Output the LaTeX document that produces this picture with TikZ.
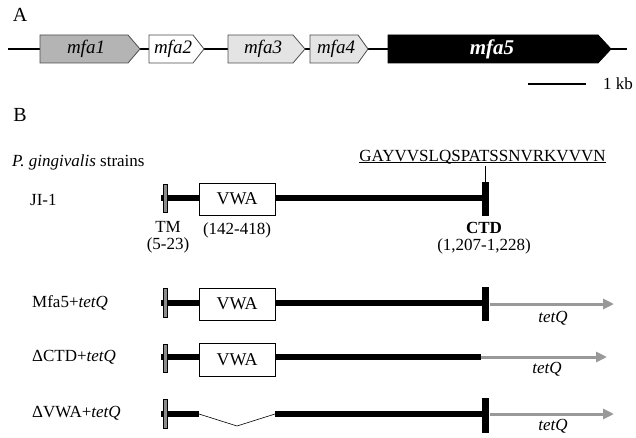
\documentclass[tikz,border=0pt]{standalone}
\usepackage{fontspec}
\setmainfont{Liberation Serif}
\usetikzlibrary{arrows.meta}
\newcommand\fsz{\fontsize{17}{20}\selectfont}
\definecolor{genegray}{HTML}{B4B4B4}
\definecolor{genelight}{HTML}{E4E4E4}
\definecolor{tmgray}{HTML}{8C8C8C}
\definecolor{tetgray}{HTML}{999999}
\begin{document}
\begin{tikzpicture}[x=1pt,y=-1pt,
  every node/.style={inner sep=0pt, font=\fsz},
  gene/.style={draw=black!70, line width=0.8pt},
  backbone/.style={line width=1.5pt, black},
  prot/.style={line width=5.5pt, black},
  tmbar/.style={fill=tmgray, draw=black, line width=0.5pt},
  ctdbar/.style={fill=black, draw=black, line width=0.3pt},
  vwabox/.style={draw=black, fill=white, line width=0.8pt, minimum width=76pt, font=\fontsize{18}{20}\selectfont},
  tetarrow/.style={tetgray, line width=3pt, -{Triangle[length=11pt,width=10pt]}},
  panel/.style={font=\fontsize{20}{22}\selectfont},
  rowlabel/.style={anchor=west},
  genelabel/.style={font=\fontsize{19}{20}\selectfont\itshape}]
\useasboundingbox (0,0) rectangle (636,438);

% ---------- Panel A ----------
\node[panel] (A) at (20,15) {A};
\coordinate (bbL) at (8,49);
\coordinate (bbR) at (627,49);
\draw[backbone] (bbL) -- (bbR);
\filldraw[gene, fill=genegray] (40,35) -- (128,35) -- (140,49) -- (128,63) -- (40,63) -- cycle;
\filldraw[gene, fill=white] (149,35) -- (193,35) -- (204,49) -- (193,63) -- (149,63) -- cycle;
\filldraw[gene, fill=genelight] (228,35) -- (293,35) -- (305,49) -- (293,63) -- (228,63) -- cycle;
\filldraw[gene, fill=genelight] (310,35) -- (358,35) -- (368,49) -- (358,63) -- (310,63) -- cycle;
\filldraw[gene, draw=black, fill=black] (388,35) -- (598,35) -- (611,49) -- (598,63) -- (388,63) -- cycle;
\node[genelabel] (m1) at (86,49) {mfa1};
\node[genelabel] (m2) at (173,49) {mfa2};
\node[genelabel] (m3) at (263,49) {mfa3};
\node[genelabel] (m4) at (336,49) {mfa4};
\node[genelabel, font=\fontsize{21}{22}\selectfont\bfseries\itshape, text=white] (m5) at (492,49) {mfa5};
\coordinate (sbL) at (528,84);
\coordinate (sbR) at (586,84);
\draw[line width=2.2pt] (sbL) -- (sbR);
\node[anchor=west] (kb) at (603,84) {1 kb};

% ---------- Panel B ----------
\node[panel] (B) at (20,115) {B};
\node[anchor=west] (strains) at (12,162) {\textit{P. gingivalis} strains};

% JI-1
\node[rowlabel] (ji) at (30,200) {JI-1};
\coordinate (r0s) at (161,198);
\coordinate (r0e) at (483,198);
\draw[prot] (r0s) -- (r0e);
\filldraw[tmbar] (163,184) rectangle (167,212);
\node[vwabox, minimum height=32pt] (v0) at (237,199) {VWA};
\filldraw[ctdbar] (482,182) rectangle (488,215);
\coordinate (ctdtop) at (485,182);
\node (seq) at (482.5,157) {GAYVVSLQSPATSSNVRKVVVN};
\draw[line width=0.6pt] (seq.south west) ++(0,-1.5) coordinate (ulL) -- (seq.south east |- ulL) coordinate (ulR);
\coordinate (sq) at (485,166);
\draw[line width=0.6pt] (ctdtop) -- (sq);
\node (tm) at (168,227) {TM};
\node (tmr) at (168,245) {(5-23)};
\node (vr) at (237,230) {(142-418)};
\node[font=\fsz\bfseries] (ctd) at (484,228) {CTD};
\node (ctdr) at (484,246) {(1,207-1,228)};

% Mfa5+tetQ
\node[rowlabel] (l1) at (32,303) {Mfa5+\textit{tetQ}};
\coordinate (r1s) at (161,303);
\coordinate (r1e) at (483,303);
\draw[prot] (r1s) -- (r1e);
\filldraw[tmbar] (163,288) rectangle (167,317);
\node[vwabox, minimum height=32pt] (v1) at (237,304) {VWA};
\filldraw[ctdbar] (482,287) rectangle (488,320);
\coordinate (t1s) at (490,304);
\coordinate (t1e) at (614,304);
\draw[tetarrow] (t1s) -- (t1e);
\node[font=\fsz\itshape] (tq1) at (553,318) {tetQ};

% DeltaCTD+tetQ
\node[rowlabel] (l2) at (32,357) {ΔCTD+\textit{tetQ}};
\coordinate (r2s) at (161,357);
\coordinate (r2e) at (481,357);
\draw[prot] (r2s) -- (r2e);
\filldraw[tmbar] (163,344) rectangle (167,372);
\node[vwabox, minimum height=33pt] (v2) at (237,359.5) {VWA};
\coordinate (t2e) at (607,357);
\draw[tetarrow] (r2e) -- (t2e);
\node[font=\fsz\itshape] (tq2) at (547,369) {tetQ};

% DeltaVWA+tetQ
\node[rowlabel] (l3) at (32,413) {ΔVWA+\textit{tetQ}};
\coordinate (r3s) at (161,414);
\coordinate (g1) at (199,414);
\coordinate (g2) at (237,426);
\coordinate (g3) at (275,414);
\coordinate (r3e) at (483,414);
\draw[prot] (r3s) -- (g1);
\draw[prot] (g3) -- (r3e);
\draw[line width=0.6pt] (g1) -- (g2) -- (g3);
\filldraw[tmbar] (163,399) rectangle (167,428);
\filldraw[ctdbar] (482,398) rectangle (488,432);
\coordinate (t3s) at (490,414);
\coordinate (t3e) at (614,414);
\draw[tetarrow] (t3s) -- (t3e);
\node[font=\fsz\itshape] (tq3) at (553,426) {tetQ};
\end{tikzpicture}
\end{document}
